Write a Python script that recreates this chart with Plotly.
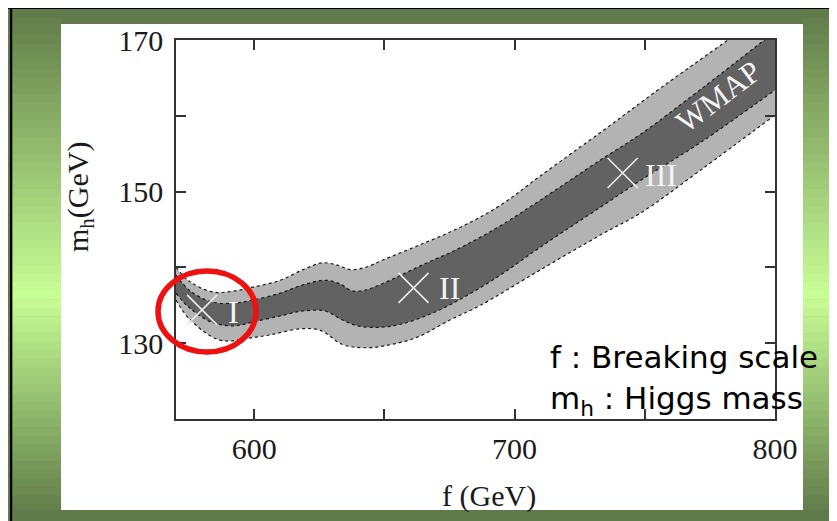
import plotly.graph_objects as go

# ---------------- data ----------------
f_outer_top = [570, 575.4, 584.2, 592.7, 599.6, 610, 618.8, 626.2, 631.9, 636.9, 642.7, 649.6,
               663.8, 679.2, 694.6, 710, 734.2, 756.2, 781.9, 800]
m_outer_top = [140.0, 138.1, 136.75, 136.9, 137.4, 138.3, 139.7, 140.6, 140.3, 139.7, 140.0, 141.0,
               143.0, 145.3, 148.2, 152.1, 158.1, 163.7, 170.0, 174.5]

f_inner_top = [570, 575.4, 584.2, 592.7, 599.6, 610, 618.8, 627.3, 633.1, 637.7, 642.7, 649.6,
               663.8, 679.2, 694.6, 710, 733.1, 748.5, 771.5, 800]
m_inner_top = [139.0, 136.9, 135.4, 135.3, 135.7, 136.6, 137.7, 138.3, 137.8, 136.9, 137.0, 137.9,
               140.2, 142.6, 145.5, 148.9, 154.2, 157.6, 163.5, 171.1]

f_inner_bot = [570, 575.4, 584.2, 592.7, 599.6, 610, 618.8, 627.3, 633.1, 639.6, 648.5, 656.2,
               667.7, 679.2, 694.6, 710, 733.1, 748.5, 771.5, 800]
m_inner_bot = [136.6, 134.6, 132.7, 132.3, 132.8, 133.6, 134.25, 134.25, 133.2, 132.3, 132.1, 132.5,
               133.85, 135.8, 139.0, 142.7, 147.97, 151.5, 156.5, 163.4]

f_outer_bot = [570, 575.4, 586.9, 598.5, 606.2, 617.7, 625.4, 634.2, 643.5, 652.3, 662.7, 675.4,
               686.9, 710, 733.1, 748.5, 771.5, 800]
m_outer_bot = [135.7, 133.1, 130.4, 130.7, 131.1, 131.9, 131.7, 129.8, 129.4, 129.8, 130.8, 133.1,
               135.0, 139.7, 144.3, 147.2, 152.85, 160.1]

point_names = ["I", "II", "III"]
point_f = [580.0, 661.2, 741.5]
point_m = [134.4, 137.3, 152.45]
label_f = [591.9, 675.0, 756.2]
label_m = [134.1, 137.3, 152.2]

x_tickvals = [600, 650, 700, 750, 800]
x_ticktext = ["600", "", "700", "", "800"]
y_tickvals = [120, 130, 140, 150, 160, 170]
y_ticktext = ["", "130", "", "150", "", "170"]

# ---------------- layout geometry ----------------
# page body has an 8px margin, so the figure is drawn 8px right/down
OFF = 8
W, H = 837 - OFF, 521 - OFF
# plot area in screen pixels (reference coordinates)
SL, SR, ST, SB = 176, 775, 40, 419


def px(x):
    return (x - SL) / (SR - SL)


def py(y):
    return (SB - y) / (SB - ST)


LIGHT = "#b3b3b3"
DARK = "#626262"
DOT = dict(color="#1a1a1a", width=1.2, dash="dot")
SERIF = "Liberation Serif, Times New Roman, serif"

fig = go.Figure()
fig.add_trace(go.Scatter(x=f_outer_bot, y=m_outer_bot, mode="lines", line=DOT,
                         line_shape="spline", hoverinfo="skip", showlegend=False))
fig.add_trace(go.Scatter(x=f_outer_top, y=m_outer_top, mode="lines", line=DOT,
                         line_shape="spline", fill="tonexty", fillcolor=LIGHT,
                         hoverinfo="skip", showlegend=False))
fig.add_trace(go.Scatter(x=f_inner_bot, y=m_inner_bot, mode="lines", line=DOT,
                         line_shape="spline", hoverinfo="skip", showlegend=False))
fig.add_trace(go.Scatter(x=f_inner_top, y=m_inner_top, mode="lines", line=DOT,
                         line_shape="spline", fill="tonexty", fillcolor=DARK,
                         hoverinfo="skip", showlegend=False))
fig.add_trace(go.Scatter(x=point_f, y=point_m, mode="markers",
                         marker=dict(symbol="x-thin", size=30,
                                     line=dict(color="#ececec", width=1.6)),
                         hoverinfo="skip", showlegend=False))

shapes = []
SW, SH = 837, 521
shapes.append(dict(type="rect", xref="paper", yref="paper", layer="below",
                   x0=px(0), x1=px(SW), y0=py(0), y1=py(7), fillcolor="white", line_width=0))
shapes.append(dict(type="rect", xref="paper", yref="paper", layer="below",
                   x0=px(0), x1=px(SW), y0=py(6), y1=py(9), fillcolor="black", line_width=0))
shapes.append(dict(type="rect", xref="paper", yref="paper", layer="below",
                   x0=px(10), x1=px(12.5), y0=py(6), y1=py(SH), fillcolor="black", line_width=0))


def grad_color(y):
    dark_top = (96, 122, 72)
    light = (200, 254, 150)
    dark_bot = (98, 126, 74)
    if y <= 295:
        t = (y - 8) / (295 - 8)
        a, b = dark_top, light
    else:
        t = (y - 295) / (510 - 295)
        a, b = light, dark_bot
    t = max(0.0, min(1.0, t))
    c = [round(a[i] + (b[i] - a[i]) * t) for i in range(3)]
    return "rgb(%d,%d,%d)" % tuple(c)


n = 60
y_start, y_end = 9, SH
step = (y_end - y_start) / n
for i in range(n):
    y0 = y_start + i * step
    y1 = y0 + step + 0.6
    col = grad_color(min(y0 + step / 2, 510))
    for (xa, xb) in [(12.5, 61), (803, SW)]:
        shapes.append(dict(type="rect", xref="paper", yref="paper", layer="below",
                           x0=px(xa), x1=px(xb), y0=py(y1), y1=py(y0),
                           fillcolor=col, line_width=0))
shapes.append(dict(type="rect", xref="paper", yref="paper", layer="below",
                   x0=px(12.5), x1=px(SW), y0=py(SH), y1=py(510),
                   fillcolor="#617a4b", line_width=0))
shapes.append(dict(type="rect", xref="paper", yref="paper", layer="below",
                   x0=px(61), x1=px(803), y0=py(510), y1=py(24),
                   fillcolor="white", line_width=0))
shapes.append(dict(type="circle", xref="paper", yref="paper", layer="above",
                   x0=px(158), x1=px(256), y0=py(352), y1=py(271),
                   line=dict(color="#ee1111", width=5.5)))

annotations = []
for name, fx, my in zip(point_names, label_f, label_m):
    annotations.append(dict(x=fx, y=my, xref="x", yref="y", text=name, showarrow=False,
                            xanchor="center", yanchor="middle",
                            font=dict(family=SERIF, size=32, color="#f4f4f4")))
annotations.append(dict(x=778.3, y=162.6, xref="x", yref="y", text="WMAP", showarrow=False,
                        xanchor="center", yanchor="middle",
                        textangle=-37, font=dict(family=SERIF, size=31, color="#f4f4f4")))
annotations.append(dict(x=px(80), y=py(197), xref="paper", yref="paper",
                        xanchor="center", yanchor="middle",
                        text="m<sub>h</sub>(GeV)", textangle=-90, showarrow=False,
                        font=dict(family=SERIF, size=30, color="#1a1a1a")))
annotations.append(dict(x=px(489), y=py(496), xref="paper", yref="paper",
                        xanchor="center", yanchor="middle",
                        text="f (GeV)", showarrow=False,
                        font=dict(family=SERIF, size=30, color="#1a1a1a")))
annotations.append(dict(x=px(548), y=py(357), xref="paper", yref="paper",
                        xanchor="left", yanchor="middle",
                        text="f : Breaking scale", showarrow=False,
                        font=dict(family="DejaVu Sans", size=31, color="black")))
annotations.append(dict(x=px(548), y=py(400), xref="paper", yref="paper",
                        xanchor="left", yanchor="middle",
                        text="m<sub>h</sub> : Higgs mass", showarrow=False,
                        font=dict(family="DejaVu Sans", size=31, color="black")))
annotations.append(dict(x=px(330), y=py(16), xref="paper", yref="paper",
                        xanchor="center", yanchor="bottom",
                        text="<b>WMAP constraint</b>", showarrow=False,
                        font=dict(family="DejaVu Sans", size=40, color="#4646cc")))

axis_common = dict(showline=True, linecolor="#333333", linewidth=1.5, mirror="ticks",
                   ticks="inside", ticklen=10, tickwidth=1.5, tickcolor="#333333",
                   showgrid=False, zeroline=False,
                   tickfont=dict(family=SERIF, size=30, color="#1a1a1a"))

fig.update_layout(
    width=W, height=H,
    margin=dict(l=SL - OFF, r=SW - SR, t=ST - OFF, b=SH - SB, pad=0),
    paper_bgcolor="#617a4b", plot_bgcolor="white",
    xaxis=dict(range=[570, 800], tickvals=x_tickvals, ticktext=x_ticktext,
               ticklabelstandoff=2, **axis_common),
    yaxis=dict(range=[120, 170], tickvals=y_tickvals, ticktext=y_ticktext,
               ticklabelstandoff=5, **axis_common),
    shapes=shapes, annotations=annotations, showlegend=False,
)

fig.write_html("out.html")
